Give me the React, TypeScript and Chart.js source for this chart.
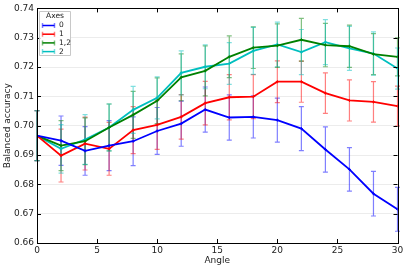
import React, { useEffect, useRef } from "react";
import { Chart, registerables } from "chart.js";

Chart.register(...registerables);

const angles = [0, 2, 4, 6, 8, 10, 12, 14, 16, 18, 20, 22, 24, 26, 28, 30];

const seriesLabels = ["0", "1", "1,2", "2"];
const seriesColors = ["#0000ff", "#ff0000", "#008000", "#00bfbf"];

const axis0 = [0.6966, 0.6949, 0.6914, 0.6932, 0.6947, 0.6982, 0.7007, 0.7055, 0.7028, 0.703, 0.7019, 0.699, 0.6919, 0.6851, 0.6768, 0.6715];
const axis1 = [0.6966, 0.6898, 0.6939, 0.6921, 0.6985, 0.7003, 0.703, 0.7077, 0.7097, 0.7099, 0.715, 0.715, 0.7111, 0.7086, 0.7081, 0.7067];
const axis12 = [0.6966, 0.6932, 0.6947, 0.6994, 0.7037, 0.7085, 0.7165, 0.7187, 0.7235, 0.7266, 0.7273, 0.7293, 0.7275, 0.7271, 0.7244, 0.7235];
const axis2 = [0.6966, 0.6921, 0.6953, 0.6994, 0.7054, 0.7095, 0.718, 0.7201, 0.7212, 0.7255, 0.7277, 0.7251, 0.7285, 0.7264, 0.7246, 0.7195];

const err0 = [0.0085, 0.0084, 0.0083, 0.0085, 0.0083, 0.008, 0.0077, 0.0077, 0.0077, 0.0072, 0.0075, 0.0075, 0.0077, 0.0074, 0.0076, 0.0075];
const err1 = [0.0085, 0.009, 0.009, 0.009, 0.008, 0.0084, 0.0076, 0.0074, 0.0077, 0.0075, 0.0071, 0.007, 0.0069, 0.007, 0.0069, 0.0068];
const err12 = [0.0085, 0.0085, 0.008, 0.008, 0.008, 0.0078, 0.008, 0.0085, 0.0071, 0.0071, 0.0074, 0.0073, 0.0074, 0.0072, 0.007, 0.0065];
const err2 = [0.0085, 0.0083, 0.0085, 0.008, 0.008, 0.0072, 0.0075, 0.0075, 0.0071, 0.008, 0.0076, 0.0077, 0.0077, 0.0075, 0.0074, 0.007];

const seriesValues = [axis0, axis1, axis12, axis2];
const seriesErrors = [err0, err1, err12, err2];

const xTicks = [0, 5, 10, 15, 20, 25, 30];
const yTicks = [0.66, 0.67, 0.68, 0.69, 0.7, 0.71, 0.72, 0.73, 0.74];

const FONT = "'DejaVu Sans', sans-serif";

function withAlpha(hex: string, a: number) {
  const r = parseInt(hex.slice(1, 3), 16);
  const g = parseInt(hex.slice(3, 5), 16);
  const b = parseInt(hex.slice(5, 7), 16);
  return `rgba(${r},${g},${b},${a})`;
}

const errorBarPlugin = {
  id: "errorBars",
  beforeDatasetsDraw(chart: any) {
    const ctx = chart.ctx;
    const xs = chart.scales.x;
    const ys = chart.scales.y;
    ctx.save();
    chart.data.datasets.forEach((ds: any, di: number) => {
      const errs = seriesErrors[di];
      const vals = seriesValues[di];
      ctx.strokeStyle = withAlpha(seriesColors[di], 0.5);
      ctx.lineWidth = 1.2;
      angles.forEach((a, i) => {
        const x = xs.getPixelForValue(a);
        const yt = ys.getPixelForValue(vals[i] + errs[i]);
        const yb = ys.getPixelForValue(vals[i] - errs[i]);
        ctx.beginPath();
        ctx.moveTo(x, yt);
        ctx.lineTo(x, yb);
        ctx.moveTo(x - 2.5, yt);
        ctx.lineTo(x + 2.5, yt);
        ctx.moveTo(x - 2.5, yb);
        ctx.lineTo(x + 2.5, yb);
        ctx.stroke();
      });
    });
    ctx.restore();
  },
};

const framePlugin = {
  id: "frameTicks",
  afterDraw(chart: any) {
    const ctx = chart.ctx;
    const { left, right, top, bottom } = chart.chartArea;
    const xs = chart.scales.x;
    const ys = chart.scales.y;
    ctx.save();
    ctx.strokeStyle = "#000";
    ctx.lineWidth = 1;
    ctx.strokeRect(Math.round(left) + 0.5, Math.round(top) + 0.5, Math.round(right - left), Math.round(bottom - top));
    ctx.beginPath();
    xTicks.forEach((t) => {
      const x = Math.round(xs.getPixelForValue(t)) + 0.5;
      ctx.moveTo(x, bottom);
      ctx.lineTo(x, bottom - 4);
      ctx.moveTo(x, top);
      ctx.lineTo(x, top + 4);
    });
    yTicks.forEach((t) => {
      const y = Math.round(ys.getPixelForValue(t)) + 0.5;
      ctx.moveTo(left, y);
      ctx.lineTo(left + 4, y);
      ctx.moveTo(right, y);
      ctx.lineTo(right - 4, y);
    });
    ctx.stroke();

    // legend
    const bx = 39.5, by = 11.5, bw = 31, bh = 44;
    ctx.fillStyle = "rgba(255,255,255,0.85)";
    ctx.strokeStyle = "#c8c8c8";
    ctx.lineWidth = 1;
    ctx.beginPath();
    ctx.rect(bx, by, bw, bh);
    ctx.fill();
    ctx.stroke();
    ctx.fillStyle = "#222";
    ctx.font = `7.5px ${FONT}`;
    ctx.textAlign = "center";
    ctx.textBaseline = "middle";
    ctx.fillText("Axes", bx + bw / 2, 16);
    ctx.textAlign = "left";
    chart.data.datasets.forEach((ds: any, di: number) => {
      const y = 25.5 + di * 8.7;
      const x0 = 42.5, x1 = 54.5;
      ctx.strokeStyle = withAlpha(seriesColors[di], 0.5);
      ctx.lineWidth = 1.5;
      ctx.beginPath();
      ctx.moveTo(x0, y - 2.5);
      ctx.lineTo(x0, y + 2.5);
      ctx.moveTo(x1, y - 2.5);
      ctx.lineTo(x1, y + 2.5);
      ctx.stroke();
      ctx.strokeStyle = seriesColors[di];
      ctx.lineWidth = 1.5;
      ctx.beginPath();
      ctx.moveTo(x0, y);
      ctx.lineTo(x1, y);
      ctx.stroke();
      ctx.fillStyle = "#222";
      ctx.fillText(ds.label, 59, y);
    });
    ctx.restore();
  },
};

export default function App() {
  const ref = useRef<HTMLCanvasElement>(null);
  useEffect(() => {
    if (!ref.current) return;
    const chart = new Chart(ref.current, {
      type: "line",
      data: {
        datasets: seriesLabels.map((label, di) => ({
          label,
          data: angles.map((a, i) => ({ x: a, y: seriesValues[di][i] })),
          borderColor: seriesColors[di],
          backgroundColor: seriesColors[di],
          borderWidth: 1.8,
          pointRadius: 1.5,
          pointStyle: "cross",
          pointBorderWidth: 1,
          tension: 0,
          fill: false,
        })),
      },
      options: {
        animation: false,
        responsive: false,
        maintainAspectRatio: false,
        layout: { padding: { top: 7, right: 9.5, left: 0, bottom: 0 } },
        plugins: {
          legend: { display: false },
          tooltip: { enabled: false },
        },
        scales: {
          x: {
            type: "linear",
            min: 0,
            max: 30,
            afterBuildTicks: (s: any) => {
              s.ticks = xTicks.map((v) => ({ value: v }));
            },
            afterFit: (s: any) => {
              s.height = 27;
            },
            grid: { display: false, drawTicks: false },
            border: { display: false },
            ticks: {
              padding: 2,
              color: "#222",
              font: { family: FONT, size: 9 },
              maxRotation: 0,
              callback: (v: any) => String(v),
            },
            title: {
              display: true,
              text: "Angle",
              color: "#222",
              font: { family: FONT, size: 9 },
              padding: { top: 0, bottom: 3.5 },
            },
          },
          y: {
            type: "linear",
            min: 0.66,
            max: 0.74,
            afterBuildTicks: (s: any) => {
              s.ticks = yTicks.map((v) => ({ value: v }));
            },
            afterFit: (s: any) => {
              s.width = 37;
            },
            grid: { color: "#ececec", drawTicks: false, lineWidth: 1 },
            border: { display: false },
            ticks: {
              padding: 3,
              color: "#222",
              font: { family: FONT, size: 9 },
              callback: (v: any) => Number(v).toFixed(2),
            },
            title: {
              display: true,
              text: "Balanced accuracy",
              color: "#222",
              font: { family: FONT, size: 9 },
              padding: { top: 2, bottom: 0 },
            },
          },
        },
      },
      plugins: [errorBarPlugin, framePlugin],
    });
    return () => chart.destroy();
  }, []);
  return (
    <div style={{ position: "absolute", left: 0, top: 0, width: 407, height: 270, background: "#fff" }}>
      <canvas ref={ref} width={407} height={270} />
    </div>
  );
}
